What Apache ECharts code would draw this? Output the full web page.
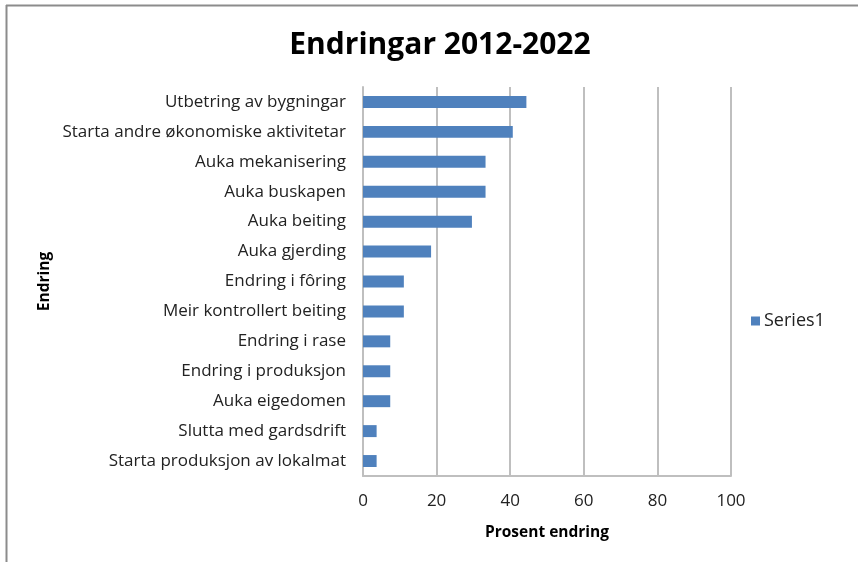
<!DOCTYPE html>
<html>
<head>
<meta charset="utf-8">
<script src="https://cdn.jsdelivr.net/npm/echarts@6/dist/echarts.min.js"></script>
<style>
  html, body { margin: 0; padding: 0; background: #fff; }
  #chart { width: 858px; height: 562px; }
</style>
</head>
<body>
<div id="chart"></div>
<script>
// Categories, top to bottom
const categories = [
  'Utbetring av bygningar',
  'Starta andre økonomiske aktivitetar',
  'Auka mekanisering',
  'Auka buskapen',
  'Auka beiting',
  'Auka gjerding',
  'Endring i fôring',
  'Meir kontrollert beiting',
  'Endring i rase',
  'Endring i produksjon',
  'Auka eigedomen',
  'Slutta med gardsdrift',
  'Starta produksjon av lokalmat'
];
// Percent change per category
const series1 = [44.4, 40.7, 33.3, 33.3, 29.6, 18.5, 11.1, 11.1, 7.4, 7.4, 7.4, 3.7, 3.7];
const xTicks = [0, 20, 40, 60, 80, 100];

const font = '"Open Sans", "Noto Sans", sans-serif';
const chart = echarts.init(document.getElementById('chart'));
chart.setOption({
  animation: false,
  backgroundColor: '#fff',
  title: {
    text: 'Endringar 2012-2022',
    left: 435, top: 25, textAlign: 'center',
    textStyle: { fontFamily: font, fontSize: 30, fontWeight: 'bold', color: '#000' }
  },
  legend: {
    data: ['Series1'],
    left: 746, top: 307,
    itemWidth: 9, itemHeight: 9, itemGap: 4,
    icon: 'rect',
    textStyle: { fontFamily: font, fontSize: 18, color: '#222', padding: [0, 0, 0, -1] }
  },
  grid: { left: 363, right: 127, top: 87, bottom: 86 },
  xAxis: {
    type: 'value', min: 0, max: 100, interval: 20,
    name: 'Prosent endring', nameLocation: 'middle', nameGap: 49,
    nameTextStyle: { fontFamily: font, fontSize: 15.5, fontWeight: 'bold', color: '#000' },
    axisLine: { show: true, lineStyle: { color: '#bfbfbf', width: 2 } },
    axisTick: { show: false },
    axisLabel: {
      margin: 17, fontFamily: font, fontSize: 17, color: '#222',
      formatter: v => xTicks.includes(v) ? String(v) : ''
    },
    splitLine: { show: true, lineStyle: { color: '#bfbfbf', width: 2 } }
  },
  yAxis: {
    type: 'category', data: categories, inverse: true,
    name: 'Endring', nameLocation: 'middle', nameGap: 310, nameRotate: 90,
    nameTextStyle: { fontFamily: font, fontSize: 15.5, fontWeight: 'bold', color: '#000' },
    axisLine: { show: true, lineStyle: { color: '#bfbfbf', width: 2 } },
    axisTick: { show: false },
    axisLabel: { margin: 17, fontFamily: font, fontSize: 17, color: '#222' }
  },
  series: [{
    name: 'Series1', type: 'bar', data: series1,
    barCategoryGap: '60%',
    itemStyle: { color: '#4f81bd' }
  }],
  graphic: [
    { type: 'line', shape: { x1: 6, y1: 5.5, x2: 858, y2: 5.5 }, style: { stroke: '#8c8c8c', lineWidth: 2 } },
    { type: 'line', shape: { x1: 6.5, y1: 5, x2: 6.5, y2: 562 }, style: { stroke: '#8c8c8c', lineWidth: 2 } }
  ]
});
</script>
</body>
</html>
